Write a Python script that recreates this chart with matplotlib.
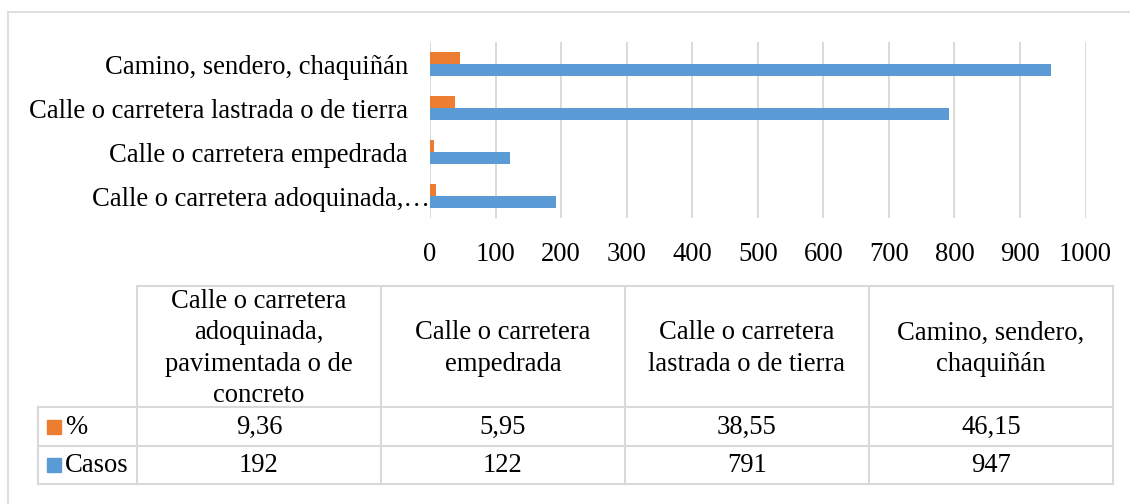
import numpy as np
import matplotlib
matplotlib.use('Agg')
import matplotlib.pyplot as plt
import matplotlib.transforms as mtransforms

plt.rcParams['font.family'] = ['Liberation Serif', 'DejaVu Serif']

# categories, bottom to top as drawn in the bar chart
categories = ['Calle o carretera adoquinada,\u2026',
              'Calle o carretera empedrada',
              'Calle o carretera lastrada o de tierra',
              'Camino, sendero, chaquiñán']
table_headers = ['Calle o carretera\nadoquinada,\npavimentada o de\nconcreto',
                 'Calle o carretera\nempedrada',
                 'Calle o carretera\nlastrada o de tierra',
                 'Camino, sendero,\nchaquiñán']
porcentaje = [9.36, 5.95, 38.55, 46.15]
casos = [192, 122, 791, 947]
series_names = ['%', 'Casos']
x_ticks = [0, 100, 200, 300, 400, 500, 600, 700, 800, 900, 1000]

ORANGE = '#ED7D31'
BLUE = '#5B9BD5'
GRID = '#D9D9D9'
FS = 19.2

W, H = 1130, 504
fig = plt.figure(figsize=(W / 100, H / 100), dpi=100)

# background axes in pixel units for the frame and the data table
bg = fig.add_axes([0, 0, 1, 1])
bg.set_xlim(0, W)
bg.set_ylim(H, 0)
bg.axis('off')

# outer chart border (only top and left are visible in the crop)
bg.plot([8, 8], [12, H + 5], color=GRID, lw=1.2)
bg.plot([8, W + 5], [12, 12], color=GRID, lw=1.2)

# bar chart
ax = fig.add_axes([430 / W, 1 - 218 / H, (1085.5 - 430) / W, (218 - 42) / H])
y = np.arange(len(categories))
h = 0.27
ax.barh(y + h / 2, porcentaje, height=h, color=ORANGE, zorder=3)
ax.barh(y - h / 2, casos, height=h, color=BLUE, zorder=3)
ax.set_xlim(0, 1000)
ax.set_ylim(-0.5, len(categories) - 0.5)
ax.set_xticks(x_ticks)
ax.set_xticklabels([str(t) for t in x_ticks], fontsize=FS)
ax.set_yticks(y)
ax.set_yticklabels(categories, fontsize=FS)
ax.tick_params(axis='both', length=0)
ax.tick_params(axis='x', pad=17.5)
ax.tick_params(axis='y', pad=16)
ax.xaxis.grid(True, color=GRID, lw=1.4, zorder=0)
for s in ax.spines.values():
    s.set_visible(False)
ax.set_facecolor('none')

# the truncated label sits right against the axis
lbl = ax.get_yticklabels()[0]
lbl.set_transform(lbl.get_transform() + mtransforms.ScaledTranslation(16 / 72, 0, fig.dpi_scale_trans))

# data table
col_x = [137, 381, 625, 869, 1113]
row_y = [286, 407, 446, 484]
left = 38
lw = 1.5
bg.plot([col_x[0], col_x[-1]], [row_y[0], row_y[0]], color=GRID, lw=lw)
for ry in row_y[1:]:
    bg.plot([left, col_x[-1]], [ry, ry], color=GRID, lw=lw)
for cx in col_x:
    bg.plot([cx, cx], [row_y[0], row_y[-1]], color=GRID, lw=lw)
bg.plot([left, left], [row_y[1], row_y[-1]], color=GRID, lw=lw)

for i, head in enumerate(table_headers):
    cx = (col_x[i] + col_x[i + 1]) / 2
    bg.text(cx, (row_y[0] + row_y[1]) / 2 + 2, head, ha='center', va='center',
            fontsize=FS, linespacing=1.32)

rows = [[('%.2f' % v).replace('.', ',') for v in porcentaje],
        [str(v) for v in casos]]
colors = [ORANGE, BLUE]
for r in range(2):
    cy = (row_y[r + 1] + row_y[r + 2]) / 2
    bg.add_patch(plt.Rectangle((47, cy - 7), 14, 14, color=colors[r]))
    bg.text(65, cy + 1, series_names[r], ha='left', va='center', fontsize=FS)
    for i, val in enumerate(rows[r]):
        cx = (col_x[i] + col_x[i + 1]) / 2
        bg.text(cx, cy + 1, val, ha='center', va='center', fontsize=FS)

fig.savefig('out.png', dpi=100)
